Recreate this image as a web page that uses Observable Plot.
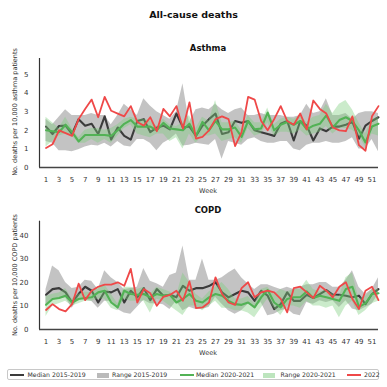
<!DOCTYPE html>
<html><head><meta charset="utf-8">
<script src="https://cdn.jsdelivr.net/npm/d3@7"></script>
<script src="https://cdn.jsdelivr.net/npm/@observablehq/plot@0.6"></script>
<style>
body{margin:0;background:#fff;font-family:"DejaVu Sans",sans-serif;}
#root{position:relative;width:387px;height:387px;overflow:hidden;background:#fff;}
.t{position:absolute;white-space:nowrap;color:#222;}
.abs{position:absolute;left:0;}
</style></head>
<body><div id="root"></div>
<script>
const weeks = [1,2,3,4,5,6,7,8,9,10,11,12,13,14,15,16,17,18,19,20,21,22,23,24,25,26,27,28,29,30,31,32,33,34,35,36,37,38,39,40,41,42,43,44,45,46,47,48,49,50,51,52];
const weekTicks = [1,3,5,7,9,11,13,15,17,19,21,23,25,27,29,31,33,35,37,39,41,43,45,47,49,51];

// Asthma
const asthmaMedian1519 = [2.2,1.8,2.23,2.25,1.8,2.6,2.25,2.35,1.8,2.75,1.5,2.15,1.7,1.5,2.5,2.6,1.9,2.15,2.25,2.05,2.9,2.15,2.2,1.7,2.25,2.6,2.9,1.8,1.9,2.5,2.4,2.5,2.0,1.9,1.8,1.7,2.35,2.5,1.45,2.5,2.25,1.45,2.1,1.95,2.2,2.2,2.3,2.45,1.55,2.25,2.5,2.7];
const asthmaRangeLo1519 = [1.4,1.3,0.9,0.9,0.85,0.95,1.1,1.2,1.15,1.3,1.1,1.4,1.15,1.1,1.5,1.5,1.3,0.9,1.3,1.5,1.8,1.15,1.2,1.3,1.25,1.2,1.5,0.45,1.4,1.3,1.2,1.5,1.6,1.4,1.3,1.3,1.4,1.4,1.0,0.9,1.2,1.3,1.3,1.4,1.3,1.3,1.4,1.6,1.0,1.0,1.5,0.85];
const asthmaRangeHi1519 = [2.6,2.3,2.7,3.1,2.8,2.8,2.8,2.9,2.8,2.8,2.3,2.8,3.4,3.1,2.8,3.7,3.3,3.0,2.8,2.6,3.0,4.5,2.4,3.1,3.2,3.1,3.4,3.1,2.9,3.1,3.2,2.8,2.8,2.9,2.8,2.8,2.8,2.7,2.7,2.8,3.4,2.9,3.0,3.7,2.8,2.8,2.9,2.6,2.9,3.0,3.0,2.9];
const asthmaMedian2021 = [2.0,1.95,1.9,2.3,1.9,1.4,1.75,1.75,1.75,1.75,1.7,2.0,2.35,2.55,2.2,2.2,2.2,2.0,2.4,2.1,2.05,2.0,2.35,1.7,2.45,2.0,2.5,2.05,2.05,2.15,1.65,2.5,2.05,2.1,2.95,2.0,2.3,2.45,2.3,2.5,2.05,2.25,2.35,2.8,2.15,2.55,2.7,2.5,2.0,1.35,2.2,2.35];
const asthmaRangeLo2021 = [1.1,1.4,1.7,1.8,1.7,1.3,1.3,1.5,1.3,1.5,1.3,1.7,2.1,2.3,1.8,1.7,1.6,1.8,1.8,1.4,1.6,1.0,1.8,1.3,1.7,1.7,1.8,1.4,1.5,1.6,1.3,2.1,1.7,1.8,2.4,1.7,1.9,1.9,1.8,2.0,1.7,1.8,1.9,2.2,1.8,2.1,2.1,2.0,1.7,1.1,1.8,1.7];
const asthmaRangeHi2021 = [2.7,2.4,2.1,2.7,2.1,1.6,2.0,2.1,2.1,2.0,2.1,2.3,2.6,2.7,2.6,2.6,2.5,2.2,2.6,2.3,2.2,2.4,2.8,2.1,2.7,2.5,3.6,2.4,2.4,2.5,2.0,2.8,2.4,2.4,3.2,2.3,2.6,2.7,2.6,2.8,2.4,2.7,2.8,3.4,2.9,3.4,3.6,3.1,2.4,1.8,2.6,2.7];
const asthma2022 = [1.05,1.25,2.0,1.85,1.7,2.6,3.15,3.65,2.7,3.8,3.05,2.9,2.75,3.3,2.45,2.25,2.7,1.95,3.15,2.75,3.3,2.1,3.5,1.55,1.65,2.0,2.6,2.75,2.6,1.15,1.9,3.8,3.65,2.5,2.0,2.6,3.3,2.5,2.3,2.9,2.05,3.6,3.15,2.9,2.15,2.0,1.95,2.75,1.2,0.9,2.75,3.3];

// COPD
const copdMedian1519 = [14.8,17.2,17.6,15.8,11.5,15.1,18.2,16.5,11.5,16.2,15.8,17.2,11.5,16.5,13.7,17.6,12.5,17.2,14.4,14.8,13.7,18.6,16.5,17.6,17.6,18.5,20.1,15.8,13.7,15.1,16.5,15.8,12.2,16.5,14.4,8.7,10.8,15.8,12.2,12.2,14.8,13.4,15.1,16.8,14.8,14.8,14.4,13.7,14.4,10.8,15.1,17.2];
const copdRangeLo1519 = [10.5,13,13,13.5,9,13,12.5,12,9,12,12,8.5,7,6.5,9.5,12.5,11,11,10.5,8.5,12,8,9.5,8.5,8.7,9.4,13.7,10.8,8,6.5,8,10.8,9.4,11.5,5.8,6.5,8,8.7,6.5,5.8,11.5,10.8,12.2,11.5,12.2,9.4,12.2,8.7,8,9.4,10.8,15];
const copdRangeHi1519 = [17,27,25,20,17.5,18,21,20.5,17,25,22,20,17,17.5,18,26,20.5,19.5,18,23,24,35.5,21,21,30,21,21,22,24,25.8,22,19.4,17,19,19,18,17,18,17,18,19,19,20,20,18,18,21,25,18,15,17,22];
const copdMedian2021 = [10.5,13.0,13.4,14.4,11.5,13.0,13.4,13.7,15.8,16.5,11.5,9.4,16.5,15.1,14.8,15.1,13.7,15.1,14.4,14.8,11.5,13.0,15.1,12.2,11.5,13.7,15.1,14.4,12.2,10.8,10.5,11.5,9.4,13.7,16.8,11.5,9.4,13.0,13.7,13.7,16.2,13.4,14.4,13.7,13.0,12.2,17.2,18.2,9.7,11.1,15.1,15.4];
const copdRangeLo2021 = [5.5,10,11,12,10,11,12,12,13,13,9,8,13,12,12,12,7,13,12,10,8,6,10,10,8,10,12,9,9,8,8,7,5,9,13,9,6,10,10,9,12,10,10,9,10,5,10,12,6,8,11,12];
const copdRangeHi2021 = [14,15,15.5,17.5,13,15,16,15.5,18,19,15,11,18,18,17,18,15,18,17,16,14,24,20,15,13,16,18,20,17,13,13,14,11,17,18,15,17,16,17,17,21,17,16,17,15,14,22,24,13,14,17,17];
const copd2022 = [8.3,10.8,8.7,7.7,10.8,19.5,12.5,16.5,18.2,19.1,19.1,20.1,18.6,25.8,11.5,17.2,15.4,10.1,13.9,14.7,16.5,12.2,20.5,9.1,9.4,11.5,22.2,15.1,11.5,10.5,17.6,20.1,13.7,15.8,16.5,15.8,13.0,7.3,17.6,18.2,15.8,13.4,18.6,16.5,13.7,18.2,20.1,13.0,8.7,16.5,18.2,12.5];

const asthmaYTicks = [0,1,2,3,4,5];
const copdYTicks = [0,10,20,30,40];

const C = {med1519:"#3b3b3b", rng1519:"#a3a3a3", med2021:"#52b255", rng2021:"#7ccc7e", y2022:"#ef4848"};

function chart(s) {
  const rows = weeks.map((w,i)=>({w, mo:s.mo[i], lo:s.lo[i], hi:s.hi[i], mn:s.mn[i], nlo:s.nlo[i], nhi:s.nhi[i], r:s.r[i]}));
  return Plot.plot({
    width:387, height:148, marginTop:s.mt, marginBottom:33, marginLeft:39, marginRight:9,
    style:{fontFamily:"DejaVu Sans", fontSize:"7px", color:"#333", background:"transparent", overflow:"visible"},
    x:{domain:[0,52], ticks:weekTicks, tickSize:0, tickPadding:9.5, label:null, tickFormat:d=>String(d)},
    y:{domain:[0,s.ymax], ticks:s.yt, tickSize:0, tickPadding:11, label:null, tickFormat:d=>String(d)},
    marks:[
      Plot.areaY(rows,{x:"w", y1:"lo", y2:"hi", fill:C.rng1519, fillOpacity:0.65}),
      Plot.lineY(rows,{x:"w", y:"mo", stroke:C.med1519, strokeWidth:2.1}),
      Plot.areaY(rows,{x:"w", y1:"nlo", y2:"nhi", fill:C.rng2021, fillOpacity:0.4}),
      Plot.lineY(rows,{x:"w", y:"mn", stroke:C.med2021, strokeWidth:2.1}),
      Plot.lineY(rows,{x:"w", y:"r", stroke:C.y2022, strokeWidth:1.8}),
      Plot.ruleX([0],{stroke:"#333", strokeWidth:1.2}),
      Plot.ruleY([0],{stroke:"#444", strokeWidth:1.6})
    ]
  });
}

const root = document.getElementById("root");
function txt(str, cx, cy, size, opts={}) {
  const d = document.createElement("div");
  d.className = "t";
  d.textContent = str;
  d.style.fontSize = size + "px";
  d.style.lineHeight = size + "px";
  d.style.fontWeight = opts.bold ? "bold" : "normal";
  d.style.color = opts.color || "#222";
  d.style.left = cx + "px"; d.style.top = cy + "px";
  d.style.transform = "translate(-50%,-50%)" + (opts.rot ? " rotate(-90deg)" : "");
  root.appendChild(d);
  return d;
}
function place(svg, top) {
  const w = document.createElement("div");
  w.className = "abs"; w.style.top = top + "px";
  w.appendChild(svg); root.appendChild(w);
}

txt("All-cause deaths", 193.5, 15, 9.5, {bold:true, color:"#111"});
txt("Asthma", 208, 47.5, 8.5, {bold:true, color:"#111"});
place(chart({mo:asthmaMedian1519, lo:asthmaRangeLo1519, hi:asthmaRangeHi1519, mn:asthmaMedian2021, nlo:asthmaRangeLo2021, nhi:asthmaRangeHi2021, r:asthma2022, ymax:5.86, yt:asthmaYTicks, mt:6}), 52);
txt("Week", 208, 191, 6.5, {color:"#333"});
txt("No. deaths per 10,000 asthma patients", 15, 112, 6.5, {rot:true, color:"#333"});

txt("COPD", 208, 210, 8.5, {bold:true, color:"#111"});
place(chart({mo:copdMedian1519, lo:copdRangeLo1519, hi:copdRangeHi1519, mn:copdMedian2021, nlo:copdRangeLo2021, nhi:copdRangeHi2021, r:copd2022, ymax:46.1, yt:copdYTicks, mt:6.7}), 214);
txt("Week", 208, 353, 6.5, {color:"#333"});
txt("No. deaths per 10,000 COPD patients", 15, 275, 6.5, {rot:true, color:"#333"});

// Legend
const legendItems = [
  {label:"Median 2015-2019", kind:"line", color:C.med1519, x0:10, tx:27.5},
  {label:"Range 2015-2019", kind:"patch", color:C.rng1519, op:0.65, x0:96.5, tx:112},
  {label:"Median 2020-2021", kind:"line", color:C.med2021, x0:180, tx:196},
  {label:"Range 2020-2021", kind:"patch", color:C.rng2021, op:0.4, x0:263, tx:280.5},
  {label:"2022", kind:"line", color:C.y2022, x0:347, tx:364}
];
const box = document.createElement("div");
box.style.cssText = "position:absolute;left:7px;top:368.5px;width:372px;height:11.5px;border:0.8px solid #c8c8c8;border-radius:2px;box-sizing:border-box;background:#fff;";
root.appendChild(box);
for (const it of legendItems) {
  const m = document.createElement("div");
  if (it.kind === "line") {
    m.style.cssText = `position:absolute;left:${it.x0}px;top:374.2px;width:14px;height:2px;background:${it.color};`;
  } else {
    m.style.cssText = `position:absolute;left:${it.x0}px;top:372.5px;width:12px;height:5px;background:${it.color};opacity:${it.op+0.1};`;
  }
  root.appendChild(m);
  const t = document.createElement("div");
  t.className = "t";
  t.textContent = it.label;
  t.style.cssText += `left:${it.tx}px;top:372px;font-size:6.2px;line-height:6.2px;color:#333;`;
  root.appendChild(t);
}
</script>
</body></html>
